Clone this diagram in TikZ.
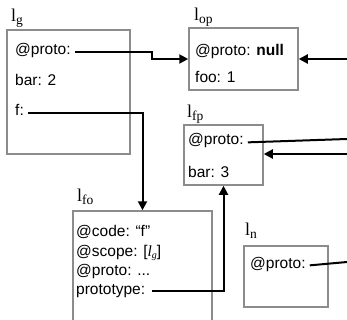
\documentclass[tikz,border=0pt]{standalone}
\usepackage{fontspec}
\setmainfont{Liberation Sans}
\newfontfamily\serif{Liberation Serif}
\usetikzlibrary{arrows.meta,calc}
\tikzset{
  objbox/.style={draw=black!45, line width=1.5pt, inner sep=0pt},
  field/.style={anchor=base west, inner sep=0pt, font=\fontsize{15.5}{18}\selectfont},
  boxname/.style={anchor=base west, inner sep=0pt, font=\serif\fontsize{18}{20}\selectfont},
  ptr/.style={line width=2pt, black},
  arr/.style={ptr, -{Triangle[length=9pt,width=9pt]}},
}
\newcommand{\lbl}[2]{l\raisebox{-3pt}{\fontsize{13.5}{14}\selectfont #2}}
\begin{document}
\begin{tikzpicture}[x=1pt,y=-1pt]
\useasboundingbox (0,0) rectangle (347,320);
\clip (0,0) rectangle (347,320);

% object boxes
\node[objbox, minimum width=123pt, minimum height=124pt] (lg)  at (68.5,92) {};
\node[objbox, minimum width=109pt, minimum height=62pt]  (lop) at (243.5,59) {};
\node[objbox, minimum width=79pt,  minimum height=60pt]  (lfp) at (223.5,155) {};
\node[objbox, minimum width=139pt, minimum height=140pt] (lfo) at (142.5,281) {};
\node[objbox, minimum width=84pt,  minimum height=61pt]  (ln)  at (286,276.5) {};

% box names
\node[boxname] (nlg)  at (11,22)  {\lbl{l}{g}};
\node[boxname] (nlop) at (194,21) {\lbl{l}{op}};
\node[boxname] (nlfp) at (187,118) {\lbl{l}{fp}};
\node[boxname] (nlfo) at (77,201) {\lbl{l}{fo}};
\node[boxname] (nln)  at (245,235) {\lbl{l}{n}};

% fields of l_g
\node[field] (gproto) at (15,55)  {@proto:};
\node[field] (gbar)   at (15,86)  {bar: 2};
\node[field] (gf)     at (15,116) {f:};

% fields of l_op
\node[field] (opproto) at (195,56) {@proto: \textbf{null}};
\node[field] (opfoo)   at (195,83) {foo: 1};

% fields of l_fp
\node[field] (fpproto) at (188,145) {@proto:};
\node[field] (fpbar)   at (188,177) {bar: 3};

% fields of l_fo
\node[field] (focode)  at (76,236) {@code: “f”};
\node[field] (foscope) at (76,256) {@scope: [{\serif\itshape l\raisebox{-2pt}{\fontsize{10}{10}\selectfont g}}]};
\node[field] (foproto) at (76,275) {@proto: ...};
\node[field] (foprot)  at (76,294) {prototype:};

% fields of l_n
\node[field] (nproto) at (250,268) {@proto:};

% free ends at the right margin
\coordinate (e1) at (347,59);
\coordinate (e2) at (347,139);
\coordinate (e3) at (347,154);
\coordinate (e4) at (347,262);

% pointers
\draw[arr] ([xshift=4pt]gproto.mid east) -| (152,59) -- (lop.west);
\draw[arr] ([xshift=4pt]gf.mid east) -| (lfo.north);
\draw[arr] (e1) -- (lop.east);
\draw[ptr] ([xshift=4pt]fpproto.mid east) -- (e2);
\draw[arr] (e3) -- (e3 -| lfp.east);
\draw[arr] ([xshift=7pt]foprot.mid east) -| (lfp.south);
\draw[ptr] ([xshift=4pt]nproto.mid east) -- (e4);
\end{tikzpicture}
\end{document}
